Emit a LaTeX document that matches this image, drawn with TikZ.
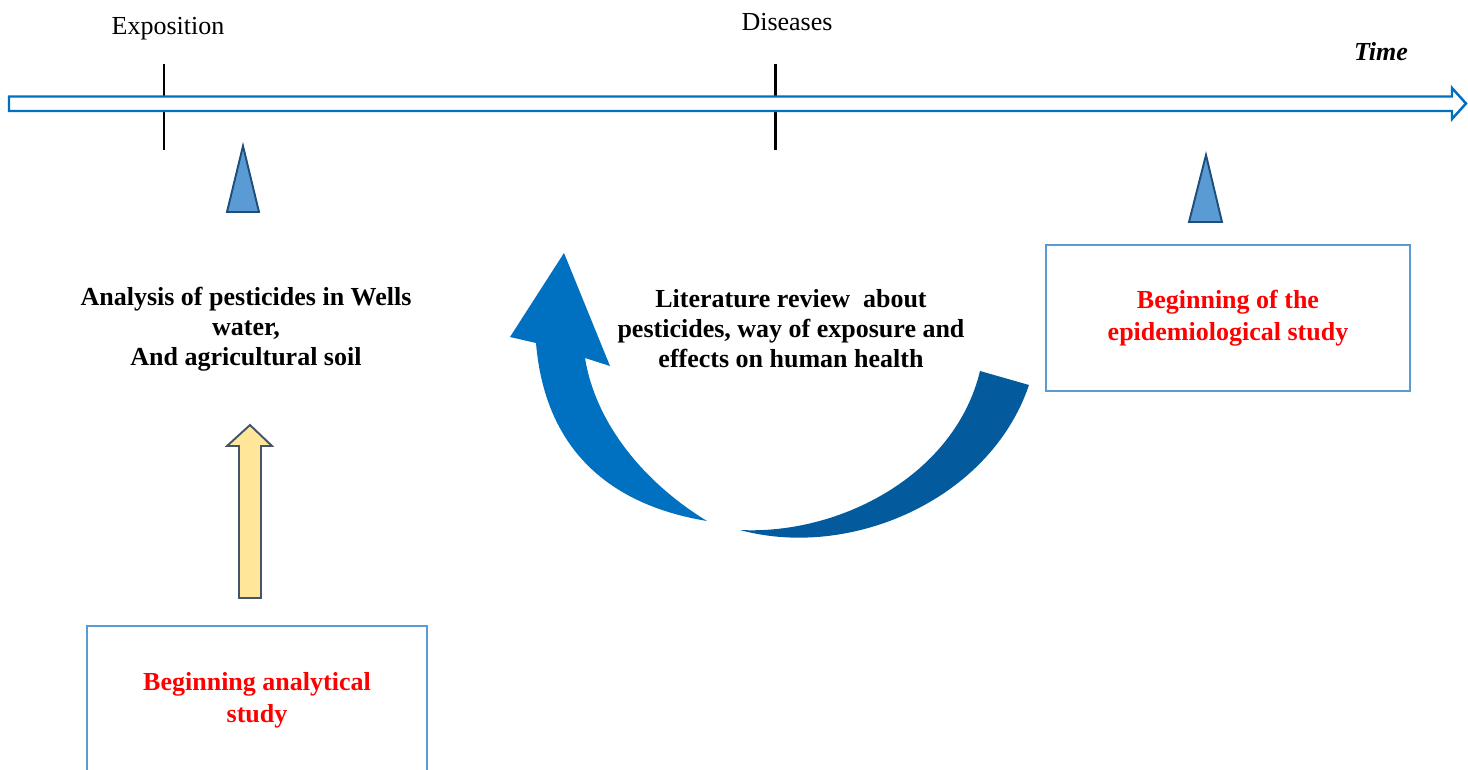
\documentclass[tikz,border=0pt]{standalone}
\usepackage{fontspec}
\setmainfont{Liberation Serif}
\definecolor{BoxBlue}{HTML}{5B9BD5}
\definecolor{LineBlue}{HTML}{0070C0}
\definecolor{DeepBlue}{HTML}{035A9C}
\definecolor{TriEdge}{HTML}{1F4E79}
\definecolor{ArrYellow}{HTML}{FFE699}
\definecolor{ArrEdge}{HTML}{44546A}

\begin{document}
\begin{tikzpicture}[
    x=0.02cm, y=-0.02cm,
    studybox/.style={
      rectangle, draw=BoxBlue, line width=1.1pt, fill=white, align=center,
      text=red, font=\fontsize{14.8}{18.2}\selectfont\bfseries
    },
    notetext/.style={align=center, font=\fontsize{14.8}{17.1}\selectfont\bfseries},
    ticklabel/.style={font=\fontsize{14.8}{17.1}\selectfont},
    pointer/.style={draw=TriEdge, fill=BoxBlue, line width=1.1pt, line join=miter}
  ]
    \useasboundingbox (0,0) rectangle (1468,770);

    % time axis with its two marks
    \coordinate (expo) at (164,64);
    \coordinate (dis) at (775,64);
    \draw[line width=0.6pt] (expo) -- ++(0,86);
    \draw[line width=1.7pt] (dis) -- ++(0,86);
    \draw[draw=LineBlue, line width=1.4pt, fill=white]
      (9,96.5) -- (1452,96.5) -- (1452,88) -- (1466,103.5) -- (1452,119) -- (1452,111) -- (9,111) -- cycle;

    \node[ticklabel] (expolbl) at (168,29) {Exposition};
    \node[ticklabel] (dislbl) at (787,22) {Diseases};
    \node[ticklabel, font=\fontsize{14.8}{17.1}\selectfont\bfseries\itshape] (timelbl) at (1381,52) {Time};

    % small pointers up to the axis
    \draw[pointer] (227,212) -- (243,146) -- (259,212) -- cycle;
    \draw[pointer] (1189,222) -- (1206,155) -- (1222,222) -- cycle;

    \node[notetext] (wells) at (246,329) {Analysis of pesticides in Wells\\water,\\And agricultural soil};
    \node[notetext] (review) at (791,329) {Literature review\ \ about\\pesticides, way of exposure and\\effects on human health};

    \node[studybox, minimum width=7.28cm, minimum height=2.92cm] (epistudy) at (1228,318)
      {Beginning of the\\epidemiological study};
    \node[studybox, minimum width=6.8cm, minimum height=2.96cm] (anastudy) at (257,700)
      {Beginning analytical\\study};

    % yellow block arrow
    \draw[draw=ArrEdge, fill=ArrYellow, line width=1.1pt]
      (239,598) -- (239,446) -- (227,446) -- (250,425) -- (272,446) -- (261,446) -- (261,598) -- cycle;

    % curved arrow round the review
    \fill[LineBlue] (707,521) .. controls (610,505) and (545,450) .. (536,343)
      -- (510,337) -- (564,253) -- (610,366) -- (585,358)
      .. controls (595,420) and (640,480) .. (707,521) -- cycle;
    \fill[DeepBlue] (1029,385) .. controls (990,500) and (850,560) .. (740,530)
      .. controls (840,535) and (955,475) .. (980,371) -- cycle;
\end{tikzpicture}
\end{document}
